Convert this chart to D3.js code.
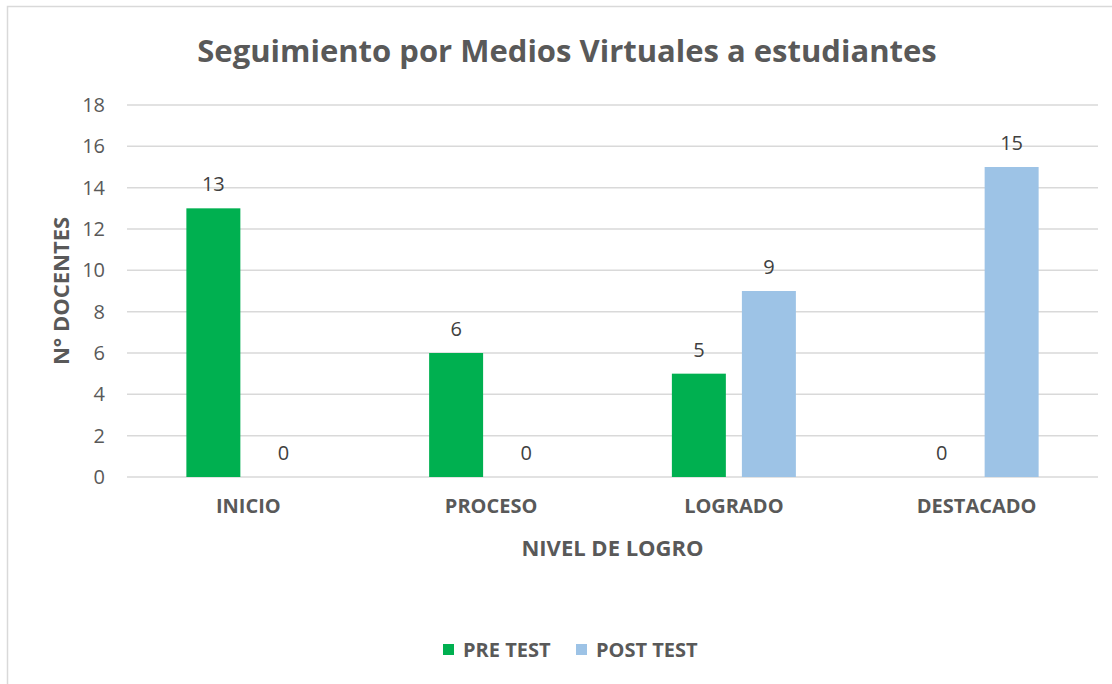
<!DOCTYPE html>
<html>
<head>
<meta charset="utf-8">
<script src="https://cdn.jsdelivr.net/npm/d3@7"></script>
<style>
  body { margin: 0; background: #fff; }
  text { font-family: 'Open Sans', Lato, sans-serif; }
</style>
</head>
<body>
<div id="chart-area"></div>
<script>
'use strict';
const svg_width = 1112;
const svg_height = 684;

const categories = ['INICIO', 'PROCESO', 'LOGRADO', 'DESTACADO'];
const series = ['PRE TEST', 'POST TEST'];
const pre_test = [13, 6, 5, 0];
const post_test = [0, 0, 9, 15];
const y_ticks = [0, 2, 4, 6, 8, 10, 12, 14, 16, 18];
const colors = ['#00b050', '#9dc3e6'];

const plot = {left: 127, right: 1098, top: 105, bottom: 477};

const svg = d3.select('#chart-area')
  .append('svg')
    .attr('width', svg_width)
    .attr('height', svg_height);

// chart frame (only top and left edges visible)
svg.append('rect')
  .attr('x', 7.5).attr('y', 6.5)
  .attr('width', 1200).attr('height', 800)
  .attr('fill', 'none')
  .attr('stroke', '#d9d9d9')
  .attr('stroke-width', 1.5);

const x_scale = d3.scaleBand()
  .domain(categories)
  .range([plot.left, plot.right])
  .padding(0);

const y_scale = d3.scaleLinear()
  .domain([0, 18])
  .range([plot.bottom, plot.top]);

const group_width = 124;
const x_inner = d3.scaleBand()
  .domain(series)
  .range([-group_width / 2, group_width / 2])
  .paddingInner(0.229);

// gridlines
svg.append('g')
  .selectAll('line').data(y_ticks).enter()
  .append('line')
    .attr('x1', plot.left).attr('x2', plot.right)
    .attr('y1', d => y_scale(d)).attr('y2', d => y_scale(d))
    .attr('stroke', '#d9d9d9')
    .attr('stroke-width', 1.5);

// y axis labels
const y_axis = d3.axisLeft(y_scale).tickValues(y_ticks).tickSize(0).tickPadding(0);
const y_g = svg.append('g')
  .attr('transform', `translate(${plot.left - 22},0)`)
  .call(y_axis);
y_g.select('.domain').remove();
y_g.selectAll('text')
  .attr('fill', '#595959')
  .style('font-size', '20px');

// x axis labels
const x_axis = d3.axisBottom(x_scale).tickSize(0).tickPadding(0);
const x_g = svg.append('g')
  .attr('transform', `translate(0,${plot.bottom + 22})`)
  .call(x_axis);
x_g.select('.domain').remove();
x_g.selectAll('text')
  .attr('fill', '#595959')
  .style('font-size', '20px')
  .style('font-weight', 'bold');

const rows = categories.map((c, i) => ({cat: c, values: [pre_test[i], post_test[i]]}));

const groups = svg.selectAll('g.cat').data(rows).enter()
  .append('g')
    .attr('class', 'cat')
    .attr('transform', d => `translate(${x_scale(d.cat) + x_scale.bandwidth() / 2},0)`);

groups.selectAll('rect')
  .data(d => d.values.map((v, j) => ({s: series[j], v: v, j: j})))
  .enter()
  .append('rect')
    .attr('x', d => x_inner(d.s))
    .attr('y', d => y_scale(d.v))
    .attr('width', x_inner.bandwidth())
    .attr('height', d => y_scale(0) - y_scale(d.v))
    .attr('fill', d => colors[d.j]);

groups.selectAll('text.val')
  .data(d => d.values.map((v, j) => ({s: series[j], v: v, j: j})))
  .enter()
  .append('text')
    .attr('class', 'val')
    .attr('x', d => x_inner(d.s) + x_inner.bandwidth() / 2)
    .attr('y', d => y_scale(d.v) - 17)
    .attr('text-anchor', 'middle')
    .attr('fill', '#404040')
    .style('font-size', '20px')
    .text(d => d.v);

// title
svg.append('text')
  .attr('x', 567).attr('y', 62)
  .attr('text-anchor', 'middle')
  .attr('fill', '#595959')
  .style('font-size', '31px')
  .style('font-weight', 'bold')
  .text('Seguimiento por Medios Virtuales a estudiantes');

// axis titles
svg.append('text')
  .attr('transform', `translate(69,${(plot.top + plot.bottom) / 2}) rotate(-90)`)
  .attr('text-anchor', 'middle')
  .attr('fill', '#595959')
  .style('font-size', '22px')
  .style('font-weight', 'bold')
  .text('N° DOCENTES');

svg.append('text')
  .attr('x', (plot.left + plot.right) / 2).attr('y', 556)
  .attr('text-anchor', 'middle')
  .attr('fill', '#595959')
  .style('font-size', '22px')
  .style('font-weight', 'bold')
  .text('NIVEL DE LOGRO');

// legend
const legend_x = [443, 576];
const legend = svg.selectAll('g.legend').data(series).enter()
  .append('g')
    .attr('class', 'legend')
    .attr('transform', (d, i) => `translate(${legend_x[i]},650)`);
legend.append('rect')
  .attr('x', 0).attr('y', -6)
  .attr('width', 11).attr('height', 11)
  .attr('fill', (d, i) => colors[i]);
legend.append('text')
  .attr('x', 20).attr('y', 7)
  .attr('fill', '#595959')
  .style('font-size', '20px')
  .style('font-weight', 'bold')
  .text(d => d);
</script>
</body>
</html>
